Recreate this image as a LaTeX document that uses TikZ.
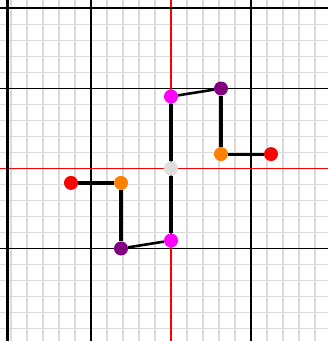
\documentclass[tikz,border=0pt]{standalone}
\usepackage{tikz}
\usetikzlibrary{positioning}
\definecolor{jointpurple}{RGB}{128,0,128}
\definecolor{jointmagenta}{RGB}{255,0,255}
\definecolor{jointorange}{RGB}{255,128,0}
\definecolor{jointred}{RGB}{255,0,0}
\definecolor{jointgray}{RGB}{222,222,222}
\definecolor{minorgrid}{RGB}{218,218,218}

\begin{document}
\begin{tikzpicture}[
x=80pt, y=80pt,          % one major square is 80pt
    joint/.style={
        circle,
        draw=none,
        fill=#1,
        inner sep=0pt,
        minimum size=14pt
    },
    bar/.style={
        draw=black,
        line width=#1
    },
    minor line/.style={draw=minorgrid, line width=1.8pt},
    major line/.style={draw=black, line width=1.3pt},
    axis line/.style={draw=jointred, line width=1.2pt}
]
    \useasboundingbox (-2.1375,-2.15625) rectangle (1.9625,2.10625);
    \clip (-2.1375,-2.15625) rectangle (1.9625,2.10625);

    % grid
    \draw[minor line] (-2.2,-2.2) grid[step=0.2] (2.2,2.2);
    \foreach \k in {-1,1} {
        \draw[major line] (\k,-2.3) -- (\k,2.3);
        \draw[major line] (-2.3,\k) -- (2.3,\k);
    }
    \draw[axis line] (0,-2.3) -- (0,2.3);
    \draw[axis line] (-2.3,0) -- (2.3,0);

    % frame
    \draw[black, line width=2pt] (-2.3,2.006) -- (2.3,2.006);
    \draw[black, line width=3pt] (-2.044,-2.3) -- (-2.044,2.3);

        \node[joint=jointgray] (C) at (0,0) {};
        \node[joint=jointmagenta] (M1) at (0,0.9) {};
        \node[joint=jointpurple] (P1) at (0.625,1) {};
        \node[joint=jointorange] (O1) at (0.625,0.18) {};
        \node[joint=jointred] (R1) at (1.25,0.18) {};

        \node[joint=jointmagenta] (M2) at (0,-0.9) {};
        \node[joint=jointpurple] (P2) at (-0.625,-1) {};
        \node[joint=jointorange] (O2) at (-0.625,-0.18) {};
        \node[joint=jointred] (R2) at (-1.25,-0.18) {};

    \draw[bar=3.6pt] (C) -- (M1);
    \draw[bar=2.6pt] (M1) -- (P1);
    \draw[bar=3.6pt] (P1) -- (O1);
    \draw[bar=3.2pt] (O1) -- (R1);

    \draw[bar=3.6pt] (C) -- (M2);
    \draw[bar=2.6pt] (M2) -- (P2);
    \draw[bar=3.6pt] (P2) -- (O2);
    \draw[bar=3.2pt] (O2) -- (R2);
\end{tikzpicture}
\end{document}
